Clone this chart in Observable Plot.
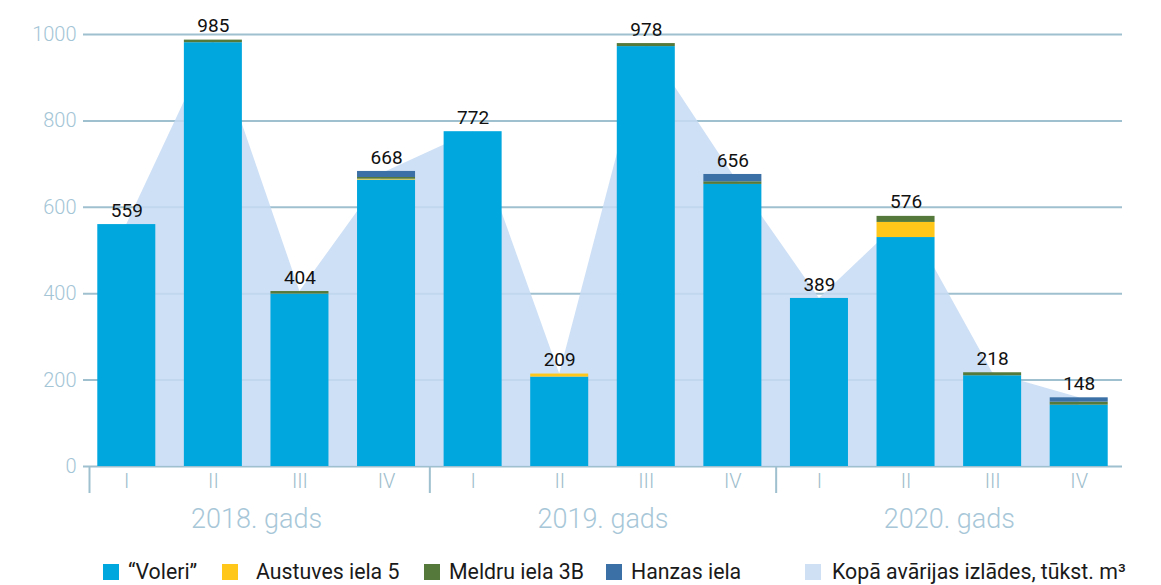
<!DOCTYPE html>
<html>
<head>
<meta charset="utf-8">
<script src="https://cdn.jsdelivr.net/npm/d3@7"></script>
<script src="https://cdn.jsdelivr.net/npm/@observablehq/plot@0.6"></script>
<style>
  html, body { margin: 0; padding: 0; background: #fff; }
  body { width: 1161px; height: 585px; overflow: hidden; font-family: Roboto, sans-serif; }
  #legend { position: relative; width: 1161px; height: 40px; }
  .sw { position: absolute; top: 19px; width: 16px; height: 16px; }
  .lt { position: absolute; top: 15px; font-size: 21.3px; line-height: 24px; color: #1a1a1a; white-space: nowrap; }
</style>
</head>
<body>
<div id="chart"></div>
<div id="legend"></div>
<script>
// ---- data ----
const years = ["2018", "2019", "2020"];
const yearLabels = ["2018. gads", "2019. gads", "2020. gads"];
const quarters = ["I", "II", "III", "IV"];
const seriesNames = ["“Voleri”", "Austuves iela 5", "Meldru iela 3B", "Hanzas iela"];
const totalName = "Kopā avārijas izlādes, tūkst. m³";
const voleri   = [560, 981, 399, 663, 775, 207, 972, 653, 389, 530, 210, 142];
const austuves = [0, 0, 0, 2, 0, 7, 0, 0, 0, 35, 0, 0];
const meldru   = [0, 6, 6, 4, 0, 0, 7, 6, 0, 14, 7, 7];
const hanzas   = [0, 0, 0, 14, 0, 0, 0, 17, 0, 0, 0, 10];
const valueLabels = [559, 985, 404, 668, 772, 209, 978, 656, 389, 576, 218, 148];
const yTicks = [0, 200, 400, 600, 800, 1000];

const colors = ["#00a7de", "#ffc719", "#55793a", "#3a70a5"];
const areaColor = "#c6dbf3";
const axisColor = "#9fc0cf";

// ---- build tables ----
const keys = years.flatMap(y => quarters.map(q => `${y}-${q}`));
const seriesValues = [voleri, austuves, meldru, hanzas];
const long = [];
seriesNames.forEach((s, si) => keys.forEach((k, i) => long.push({key: k, series: s, value: seriesValues[si][i]})));
const totals = keys.map((k, i) => ({
  key: k,
  total: seriesValues.reduce((acc, arr) => acc + arr[i], 0),
  label: valueLabels[i]
}));

const W = 1161, H = 545, mL = 83, mR = 39, mT = 34, mB = 79;
const step = (W - mL - mR) / keys.length;
const firstKeys = years.map(y => `${y}-I`);
const midKeys = years.map(y => `${y}-II`);

const chart = Plot.plot({
  width: W,
  height: H,
  marginLeft: mL,
  marginRight: mR,
  marginTop: mT,
  marginBottom: mB,
  style: {fontFamily: "Roboto, sans-serif", background: "#fff"},
  x: {domain: keys, paddingInner: 0.33, paddingOuter: 0.165, align: 0.5, round: false},
  y: {domain: [0, 1000]},
  color: {domain: seriesNames, range: colors},
  marks: [
    Plot.ruleY(yTicks, {stroke: axisColor, strokeWidth: 2}),
    Plot.areaY(totals, {x: "key", y: "total", fill: areaColor, fillOpacity: 0.85}),
    Plot.barY(long, {x: "key", y: "value", fill: "series"}),
    Plot.text(totals, {x: "key", y: "total", text: d => String(d.label), dy: -14, fontSize: 19, fill: "#111"}),
    Plot.axisY({ticks: yTicks, tickSize: 0, tickPadding: 7, fontSize: 20, fontWeight: 300, color: "#a3c5d6", tickFormat: d => String(d), label: null}),
    Plot.axisX({tickSize: 0, tickPadding: 7, fontSize: 20, fontWeight: 300, color: "#9dbdcc", tickFormat: k => k.split("-")[1], label: null}),
    Plot.axisX({ticks: firstKeys.slice(0, 1), tickSize: 27, strokeWidth: 2, text: null, dx: -step / 2 + 6, color: axisColor, label: null}),
    Plot.axisX({ticks: firstKeys.slice(1), tickSize: 27, strokeWidth: 2, text: null, dx: -step / 2, color: axisColor, label: null}),
    Plot.axisX({ticks: midKeys, tickSize: 0, tickPadding: 42, fontSize: 27, fontWeight: 300, color: "#a7c7d8",
      tickFormat: k => yearLabels[years.indexOf(k.split("-")[0])], dx: step / 2, label: null})
  ]
});
document.getElementById("chart").appendChild(chart);

// ---- legend ----
const legendItems = [
  {name: seriesNames[0], color: colors[0], sx: 103, tx: 128},
  {name: seriesNames[1], color: colors[1], sx: 222, tx: 256},
  {name: seriesNames[2], color: colors[2], sx: 424, tx: 449},
  {name: seriesNames[3], color: colors[3], sx: 606, tx: 631},
  {name: totalName, color: "#cfe0f5", sx: 805, tx: 832}
];
const legend = document.getElementById("legend");
for (const it of legendItems) {
  const sw = document.createElement("div");
  sw.className = "sw"; sw.style.left = it.sx + "px"; sw.style.background = it.color;
  const t = document.createElement("div");
  t.className = "lt"; t.style.left = it.tx + "px"; t.textContent = it.name;
  legend.appendChild(sw); legend.appendChild(t);
}
</script>
</body>
</html>
